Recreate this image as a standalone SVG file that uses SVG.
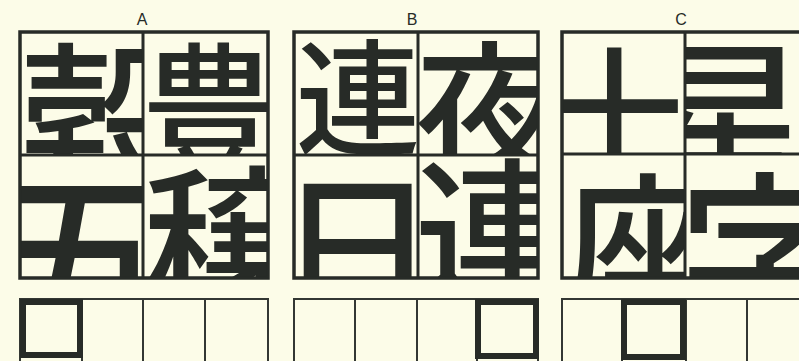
<svg xmlns="http://www.w3.org/2000/svg" width="799" height="361" viewBox="0 0 799 361">
<defs>
<style>
.bg{fill:#fcfce8}
.k{font-family:"Noto Sans CJK JP","Noto Sans CJK SC",sans-serif;font-weight:500;fill:#272b27;text-anchor:middle}
.frame{fill:none;stroke:#272b27;stroke-width:3.5}
.div{stroke:#272b27;stroke-width:3}
.box{fill:none;stroke:#333733;stroke-width:2}
.bold{fill:none;stroke:#272b27;stroke-width:6}
.lab{font-family:"Liberation Sans",sans-serif;font-size:16px;fill:#272b27;text-anchor:middle}
</style>
<clipPath id="cA1"><rect x="20" y="32" width="123" height="123"/></clipPath>
<clipPath id="cA2"><rect x="143" y="32" width="125" height="123"/></clipPath>
<clipPath id="cA3"><rect x="20" y="155" width="123" height="123"/></clipPath>
<clipPath id="cA4"><rect x="143" y="155" width="125" height="123"/></clipPath>
<clipPath id="cB1"><rect x="294" y="32" width="124" height="123"/></clipPath>
<clipPath id="cB2"><rect x="418" y="32" width="120" height="123"/></clipPath>
<clipPath id="cB3"><rect x="294" y="155" width="124" height="123"/></clipPath>
<clipPath id="cB4"><rect x="418" y="155" width="120" height="123"/></clipPath>
<clipPath id="cC1"><rect x="562" y="32" width="123" height="122"/></clipPath>
<clipPath id="cC2"><rect x="685" y="32" width="125" height="122"/></clipPath>
<clipPath id="cC3"><rect x="562" y="154" width="123" height="124"/></clipPath>
<clipPath id="cC4"><rect x="685" y="154" width="125" height="124"/></clipPath>
</defs>
<rect class="bg" x="0" y="0" width="799" height="361"/>

<g id="labels">
<text class="lab" x="142" y="25">A</text>
<text class="lab" x="412" y="25">B</text>
<text class="lab" x="681" y="25">C</text>
</g>

<g id="grid-A">
<g id="A-1" clip-path="url(#cA1)"><text class="k" x="104" y="187" font-size="170">穀</text></g>
<g id="A-2" clip-path="url(#cA2)"><text class="k" x="210" y="161" font-size="140">豊</text></g>
<g id="A-3" clip-path="url(#cA3)"><text class="k" x="85" y="325" font-size="185">五</text></g>
<g id="A-4" clip-path="url(#cA4)"><text class="k" x="228" y="310" font-size="170">穣</text></g>
<rect class="frame" x="20" y="32" width="248" height="246"/>
<line class="div" x1="143" y1="32" x2="143" y2="278"/>
<line class="div" x1="20" y1="155" x2="268" y2="155"/>
</g>

<g id="grid-B">
<g id="B-1" clip-path="url(#cB1)"><text class="k" x="358" y="145" font-size="125">連</text></g>
<g id="B-2" clip-path="url(#cB2)"><text class="k" x="490" y="168" font-size="150">夜</text></g>
<g id="B-3" clip-path="url(#cB3)"><text class="k" x="357" y="309" font-size="160">日</text></g>
<g id="B-4" clip-path="url(#cB4)"><text class="k" x="494" y="294" font-size="160">連</text></g>
<rect class="frame" x="294" y="32" width="244" height="246"/>
<line class="div" x1="418" y1="32" x2="418" y2="278"/>
<line class="div" x1="294" y1="155" x2="538" y2="155"/>
</g>

<g id="grid-C">
<g id="C-1" clip-path="url(#cC1)"><text class="k" x="614" y="166" font-size="140">十</text></g>
<g id="C-2" clip-path="url(#cC2)"><text class="k" x="725" y="185" font-size="170">星</text></g>
<g id="C-3" clip-path="url(#cC3)"><text class="k" x="643" y="309" font-size="160">座</text></g>
<g id="C-4" clip-path="url(#cC4)"><text class="k" x="765" y="320" font-size="175">字</text></g>
<rect class="frame" x="562" y="32" width="248" height="246"/>
<line class="div" x1="685" y1="32" x2="685" y2="278"/>
<line class="div" x1="562" y1="154" x2="810" y2="154"/>
</g>

<g id="answers-A">
<rect class="box" x="20" y="299" width="248" height="70"/>
<line class="box" x1="82" y1="299" x2="82" y2="369"/>
<line class="box" x1="143" y1="299" x2="143" y2="369"/>
<line class="box" x1="205" y1="299" x2="205" y2="369"/>
<rect class="bold" x="23" y="302" width="57" height="53"/>
</g>
<g id="answers-B">
<rect class="box" x="294" y="299" width="244" height="70"/>
<line class="box" x1="355" y1="299" x2="355" y2="369"/>
<line class="box" x1="417" y1="299" x2="417" y2="369"/>
<line class="box" x1="477" y1="299" x2="477" y2="369"/>
<rect class="bold" x="478" y="302" width="58" height="54"/>
</g>
<g id="answers-C">
<rect class="box" x="562" y="299" width="248" height="70"/>
<line class="box" x1="622" y1="299" x2="622" y2="369"/>
<line class="box" x1="686" y1="299" x2="686" y2="369"/>
<line class="box" x1="747" y1="299" x2="747" y2="369"/>
<rect class="bold" x="624" y="302" width="59" height="55"/>
</g>
</svg>
